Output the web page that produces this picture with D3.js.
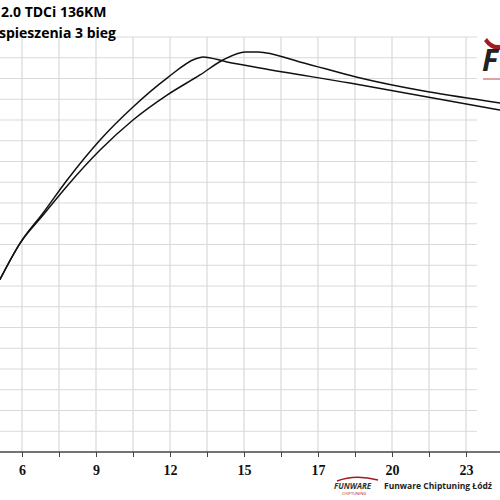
<!DOCTYPE html>
<html><head><meta charset="utf-8">
<script src="https://cdn.jsdelivr.net/npm/d3@7"></script>
<style>body{margin:0;background:#fff}</style></head>
<body><svg id="chart"></svg>
<script>
// x tick labels, every second grid line carries one
const xLabels = ["6", "", "9", "", "12", "", "15", "", "17", "", "20", "", "23", ""];
// curve points in grid units: [column index, row value]
const curveA = [[-0.6, 8.3], [-0.05, 10.07], [0.57, 11.52], [1.22, 13.11], [2.11, 15.04], [3.0, 16.63],
    [3.92, 18.02], [4.68, 18.94], [4.89, 19.04], [5.54, 18.8], [6.43, 18.51], [8.86, 17.78], [12.92, 16.48]];
const curveB = [[-0.6, 8.3], [-0.05, 10.07], [0.57, 11.42], [1.22, 12.82], [2.11, 14.55], [3.0, 16.0],
    [3.92, 17.2], [4.81, 18.17], [5.43, 18.89], [6.03, 19.28], [6.38, 19.28], [7.51, 18.8], [9.03, 18.07], [12.92, 16.82]];
const rows = 20;

const width = 500, height = 500;
const svg = d3.select("#chart").attr("width", width).attr("height", height)
    .style("font-family", "'Open Sans', sans-serif");

const x = d3.scaleLinear().domain([0, 1]).range([22, 59]);
const y = d3.scaleLinear().domain([0, rows]).range([452, 37]);

// grid
svg.append("g").selectAll("line").data(d3.range(1, rows + 1)).join("line")
    .attr("x1", 0).attr("x2", 477).attr("y1", d => y(d)).attr("y2", d => y(d))
    .attr("stroke", "#d9d9d9").attr("stroke-width", 1.2);
svg.append("g").selectAll("line").data(d3.range(xLabels.length)).join("line")
    .attr("x1", d => x(d)).attr("x2", d => x(d)).attr("y1", y(rows)).attr("y2", y(0))
    .attr("stroke", "#d9d9d9").attr("stroke-width", 1.2);

// x axis
const xAxis = svg.append("g").attr("transform", `translate(0,${y(0)})`)
    .call(d3.axisBottom(x).tickValues(d3.range(xLabels.length)).tickSize(5).tickFormat(i => xLabels[i]));
xAxis.select(".domain").attr("d", `M0,0H${width}`).attr("stroke", "#444").attr("stroke-width", 1.6);
xAxis.selectAll(".tick line").attr("stroke", "#444");
xAxis.selectAll(".tick text").attr("dy", "1.1em").attr("font-family", "'Liberation Serif', serif")
    .attr("font-weight", "bold").attr("font-size", 14).attr("fill", "#111");

// curves
const line = d3.line().x(d => x(d[0])).y(d => y(d[1])).curve(d3.curveMonotoneX);
[curveA, curveB].forEach(c => svg.append("path").datum(c).attr("d", line)
    .attr("fill", "none").attr("stroke", "#111").attr("stroke-width", 1.5));

// titles
svg.append("text").attr("x", 1).attr("y", 17).attr("font-weight", "bold").attr("font-size", 14).text("2.0 TDCi 136KM");
svg.append("text").attr("x", -1).attr("y", 38).attr("font-weight", "bold").attr("font-size", 14).text("spieszenia 3 bieg");

// logo top right
svg.append("path").attr("d", "M484,41 Q490,50 500,50 L500,45 Q492,46 487,38 Z").attr("fill", "#a31a1f");
svg.append("text").attr("x", 482).attr("y", 71).attr("font-size", 30).attr("font-style", "italic")
    .attr("font-weight", "bold").attr("fill", "#222").text("F");
svg.append("line").attr("x1", 483).attr("x2", 500).attr("y1", 79).attr("y2", 79).attr("stroke", "#d98080").attr("stroke-width", 1.5);

// footer logo
svg.append("path").attr("d", "M337,481 Q355,474 378,480").attr("fill", "none").attr("stroke", "#a31a1f").attr("stroke-width", 1.5);
svg.append("text").attr("x", 334).attr("y", 489).attr("font-size", 8).attr("font-style", "italic")
    .attr("font-weight", "bold").attr("fill", "#333").text("FUNWARE");
svg.append("text").attr("x", 342).attr("y", 495).attr("font-size", 4).attr("fill", "#a31a1f").text("CHIPTUNING");
svg.append("text").attr("x", 384).attr("y", 489).attr("font-size", 8.5).attr("font-weight", "bold")
    .attr("fill", "#222").text("Funware Chiptuning Łódź");
</script></body></html>
